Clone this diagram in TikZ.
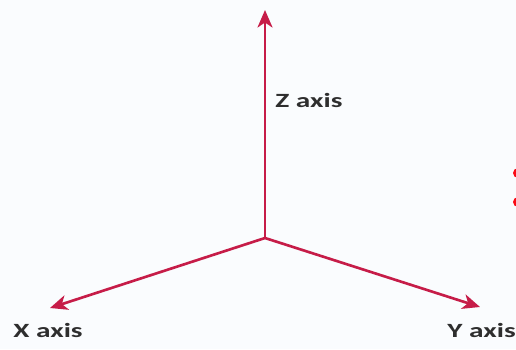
\documentclass[tikz,border=0pt]{standalone}
\usepackage{fontspec}
\usepackage{graphicx}
\usepackage{xcolor}
\usepackage{tikz}
\usetikzlibrary{arrows.meta}
\newfontfamily\labelfont{Carlito}
\definecolor{axisc}{RGB}{198,28,72}
\definecolor{dotc}{RGB}{250,10,20}
\definecolor{bgc}{RGB}{250,252,254}
\newcommand{\axlabel}[1]{\scalebox{1.45}[1]{#1}}

\begin{document}
\begin{tikzpicture}[
  x=0.02cm, y=-0.02cm,
  axis/.style={-{Stealth[length=3.5mm, width=3mm, inset=1mm]}, line width=1.5pt, color=axisc},
  lbl/.style={font=\labelfont\bfseries\fontsize{11.5}{13}\selectfont, text=black!82,
              inner sep=0pt, anchor=base west},
  dot/.style={circle, fill=dotc, inner sep=0pt, minimum size=0.2cm}
]
  \useasboundingbox[fill=bgc] (0,0) rectangle (516,349);
  % axes
  \coordinate (o) at (265,238);
  \coordinate (ztip) at (265,10);
  \coordinate (xtip) at (50,308);
  \coordinate (ytip) at (480,307);
  \draw[axis] (o) -- (ztip);
  \draw[axis] (o) -- (xtip);
  \draw[axis] (o) -- (ytip);
  % labels
  \node[lbl] (zlab) at (275,107) {\axlabel{Z axis}};
  \node[lbl] (xlab) at (13,337) {\axlabel{X axis}};
  \node[lbl] (ylab) at (447,337) {\axlabel{Y axis}};
  % bullets at the edge
  \node[dot] (d1) at (518,173) {};
  \node[dot] (d2) at (518,202) {};
\end{tikzpicture}
\end{document}
